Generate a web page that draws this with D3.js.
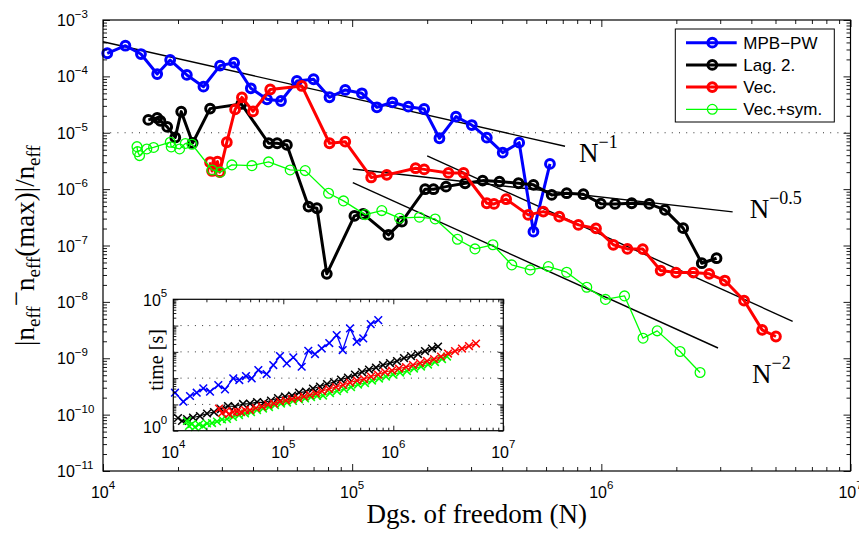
<!DOCTYPE html>
<html>
<head>
<meta charset="utf-8">
<script src="https://cdn.jsdelivr.net/npm/d3@7"></script>
<style>
  html, body { margin: 0; padding: 0; background: #fff; }
  svg { display: block; }
</style>
</head>
<body>
<svg id="chart" width="859" height="533"></svg>
<script>
// ---------- Convergence of n_eff error vs. degrees of freedom ----------
const seriesNames = ["MPB\u2212PW", "Lag. 2.", "Vec.", "Vec.+sym."];
const seriesColors = ["#0000ff", "#000000", "#ff0000", "#00ff00"];

// MPB-PW
const nBlue = [1.04e4,1.23e4,1.42e4,1.65e4,1.86e4,2.17e4,2.53e4,2.95e4,3.36e4,3.92e4,4.55e4,5.18e4,6.0e4,7.0e4,8.11e4,9.38e4,1.094e5,1.257e5,1.45e5,1.68e5,1.945e5,2.24e5,2.61e5,3.02e5,3.47e5,4.02e5,4.68e5,5.34e5,6.22e5];
const eBlue = [2.57e-4,3.50e-4,2.49e-4,1.10e-4,1.95e-4,1.06e-4,6.56e-5,1.55e-4,1.75e-4,6.15e-5,3.93e-5,3.66e-5,8.29e-5,8.89e-5,4.26e-5,5.74e-5,5.01e-5,2.83e-5,3.47e-5,2.90e-5,2.64e-5,7.99e-6,1.93e-5,1.37e-5,8.18e-6,4.44e-6,6.67e-6,1.76e-7,2.80e-6];

// Lag. 2.
const nBlack = [1.52e4,1.65e4,1.70e4,1.81e4,1.95e4,2.06e4,2.29e4,2.69e4,3.59e4,4.62e4,5.0e4,5.47e4,6.68e4,7.22e4,7.91e4,1.021e5,1.107e5,1.398e5,1.583e5,1.963e5,2.12e5,2.38e5,2.84e5,3.34e5,3.90e5,4.65e5,5.34e5,6.32e5,7.26e5,8.47e5,9.95e5,1.135e6,1.324e6,1.557e6,1.80e6,2.13e6,2.53e6,2.90e6];
const eBlack = [1.69e-5,1.83e-5,1.62e-5,1.27e-5,8.25e-6,2.37e-5,6.59e-6,2.68e-5,3.24e-5,6.51e-6,6.51e-6,6.08e-6,4.90e-7,4.58e-7,3.14e-8,3.35e-7,3.63e-7,1.54e-7,2.65e-7,9.96e-7,9.96e-7,1.107e-6,1.27e-6,1.416e-6,1.36e-6,1.27e-6,1.19e-6,7.89e-7,8.46e-7,8.12e-7,5.53e-7,5.46e-7,5.62e-7,5.46e-7,4.28e-7,2.03e-7,4.85e-8,5.95e-8];

// Vec.
const nRed = [2.69e4,2.74e4,2.88e4,2.94e4,3.14e4,3.39e4,3.61e4,4.00e4,4.69e4,6.28e4,8.11e4,9.38e4,1.192e5,1.377e5,1.797e5,1.945e5,2.434e5,2.80e5,3.47e5,3.71e5,4.15e5,5.09e5,5.85e5,6.78e5,8.09e5,9.52e5,1.117e6,1.272e6,1.466e6,1.73e6,1.994e6,2.34e6,2.71e6,3.13e6,3.74e6,4.42e6,5.02e6];
const eRed = [3.00e-6,2.10e-6,3.07e-6,2.00e-6,6.79e-6,2.59e-5,4.23e-5,2.39e-5,5.86e-5,6.76e-5,6.51e-6,6.95e-6,1.61e-6,1.79e-6,2.35e-6,2.24e-6,1.94e-6,1.94e-6,5.62e-7,5.46e-7,6.62e-7,3.49e-7,3.99e-7,3.25e-7,2.32e-7,2.01e-7,1.03e-7,8.71e-8,8.65e-8,3.59e-8,3.31e-8,3.31e-8,3.14e-8,2.39e-8,1.055e-8,3.19e-9,2.43e-9];

// Vec.+sym.
const nGreen = [1.369e4,1.377e4,1.402e4,1.499e4,1.596e4,1.862e4,1.879e4,2.03e4,2.14e4,2.275e4,2.74e4,2.955e4,3.29e4,3.96e4,4.62e4,5.64e4,6.48e4,8.04e4,9.23e4,1.127e5,1.315e5,1.549e5,1.862e5,2.153e5,2.645e5,3.11e5,3.67e5,4.37e5,5.18e5,6.13e5,7.26e5,8.74e5,1.039e6,1.239e6,1.47e6,1.676e6,2.07e6,2.49e6];
const eGreen = [5.67e-6,4.62e-6,3.93e-6,5.16e-6,5.49e-6,6.79e-6,5.60e-6,5.16e-6,6.46e-6,6.25e-6,2.19e-6,2.00e-6,2.69e-6,2.61e-6,3.04e-6,2.19e-6,2.13e-6,8.46e-7,6.18e-7,3.53e-7,4.16e-7,3.05e-7,3.18e-7,2.96e-7,1.29e-7,8.71e-8,1.03e-7,4.53e-8,3.69e-8,4.23e-8,3.36e-8,1.82e-8,1.107e-8,1.277e-8,2.27e-9,3.06e-9,1.32e-9,5.58e-10];

// Reference slopes: endpoints [N, error] and exponent label
const refN1 = [1e4, 7.15e5],     refE1 = [4.12e-4, 5.76e-6];
const refN05 = [1.006e5, 3.365e6], refE05 = [2.28e-6, 3.94e-7];
const refN2a = [2.0e5, 5.86e6],  refE2a = [3.88e-6, 4.52e-9];
const refN2b = [1.006e5, 2.94e6], refE2b = [1.30e-6, 1.52e-9];
const refExponents = ["\u22121", "\u22120.5", "\u22122"];
const thresholdE = 1e-5;

// Inset: run time [s]
const tnBlue = [1.036e4,1.233e4,1.419e4,1.632e4,1.874e4,2.157e4,2.565e4,2.951e4,3.51e4,3.98e4,4.58e4,5.16e4,5.93e4,7.06e4,8.11e4,9.33e4,1.074e5,1.233e5,1.469e5,1.687e5,1.941e5,2.233e5,2.618e5,3.06e5,3.467e5,4.04e5,4.645e5,5.33e5,6.23e5,7.30e5];
const tBlue = [27.9,12.7,20.9,27.9,40.9,30.4,54.7,37.5,98.2,84.7,120,98.2,203,143,315,692,365,618,271,1101,825,1358,2161,4352,1171,7827,2421,3261,11400,16180];
const tnBlack = [1.103e4,1.2e4,1.332e4,1.511e4,1.748e4,2.025e4,2.344e4,2.715e4,3.143e4,3.64e4,4.30e4,4.98e4,5.77e4,6.68e4,7.73e4,8.95e4,1.036e5,1.2e5,1.389e5,1.608e5,1.862e5,2.156e5,2.496e5,2.89e5,3.346e5,3.874e5,4.485e5,5.194e5,6.013e5,6.96e5,8.06e5,9.33e5,1.08e6,1.251e6,1.448e6,1.677e6,1.942e6,2.248e6,2.55e6];
const tBlack = [3.04,2.34,2.79,3.18,3.62,4.51,5.14,6.68,8.69,8.32,10.4,10.8,12.3,11.8,14.1,17.5,20.0,21.8,28.3,30.9,40.2,47.9,59.7,71.1,88.5,105,137,171,212,253,315,375,447,581,692,825,1072,1335,1590];
const tnRed = [2.603e4,2.772e4,3.014e4,3.209e4,3.489e4,3.795e4,4.126e4,4.486e4,4.98e4,5.647e4,6.405e4,7.262e4,8.234e4,9.333e4,1.058e5,1.2e5,1.36e5,1.543e5,1.748e5,1.983e5,2.248e5,2.603e5,3.014e5,3.489e5,4.041e5,4.677e5,5.415e5,6.27e5,7.262e5,8.405e5,9.731e5,1.127e6,1.305e6,1.511e6,1.748e6,2.025e6,2.344e6,2.715e6,3.143e6,3.64e6,4.212e6,4.877e6,5.647e6];
const tRed = [6.98,4.71,5.61,4.31,5.14,5.37,5.14,6.12,6.12,7.30,8.32,9.91,10.8,12.9,14.1,16.0,17.5,20.0,22.8,26.0,32.3,38.5,45.9,54.7,68.0,81.0,92.4,115,137,171,195,232,264,315,375,447,532,663,861,1072,1335,1662,2068];
const tnGreen = [1.332e4,1.389e4,1.479e4,1.575e4,1.713e4,1.862e4,2.025e4,2.248e4,2.496e4,2.772e4,3.077e4,3.489e4,3.957e4,4.486e4,5.087e4,5.77e4,6.54e4,7.413e4,8.405e4,9.53e4,1.08e5,1.225e5,1.389e5,1.575e5,1.786e5,2.025e5,2.296e5,2.658e5,3.077e5,3.563e5,4.126e5,4.777e5,5.53e5,6.405e5,7.413e5,8.58e5,9.94e5,1.151e6,1.332e6,1.543e6,1.786e6,2.068e6,2.393e6,2.772e6,3.077e6];
const tGreen = [2.34,1.51,1.80,1.38,1.72,1.51,1.88,1.96,2.24,2.67,2.79,3.32,3.95,4.51,5.14,6.12,6.98,7.96,9.49,10.8,11.8,13.5,15.4,16.8,19.1,20.9,21.8,27.1,32.3,38.5,45.9,57.1,65.1,81.0,96.6,115,137,163,186,232,276,329,409,532,663];

// Tick decades (exponents)
const xExpMain = [4, 5, 6, 7];
const yExpMain = [-11, -10, -9, -8, -7, -6, -5, -4, -3];
const xExpInset = [4, 5, 6, 7];
const yExpInset = [0, 5];
const yGridInset = [1, 2, 3, 4];

// ---------- drawing ----------
const SANS = "'Liberation Sans', Arial, Helvetica, sans-serif";
const SERIF = "'Liberation Serif', 'Times New Roman', Times, serif";
const svg = d3.select("#chart");

const M = { left: 103, right: 850.5, top: 20, bottom: 471 };
const x = d3.scaleLog().domain([1e4, 1e7]).range([M.left, M.right]);
const y = d3.scaleLog().domain([1e-11, 1e-3]).range([M.bottom, M.top]);

const I = { left: 173.3, right: 503.3, top: 299.3, bottom: 430.7 };
const xi = d3.scaleLog().domain([1e4, 1e7]).range([I.left, I.right]);
const yi = d3.scaleLog().domain([1, 1e5]).range([I.bottom, I.top]);

const pow10 = e => Math.pow(10, e);
const expText = e => (e < 0 ? "\u2212" + (-e) : String(e));

function minorValues(lo, hi) {
  const out = [];
  for (let e = lo; e < hi; e++) for (let m = 2; m <= 9; m++) out.push(m * pow10(e));
  return out;
}

// inward ticks on all four sides
function boxTicks(g, xs, ys, box, xMaj, yMaj, majLen, minLen) {
  const xMin = minorValues(xMaj[0], xMaj[xMaj.length - 1]);
  const yMin = minorValues(yMaj[0], yMaj[yMaj.length - 1]);
  const xMajV = xMaj.map(pow10), yMajV = yMaj.map(pow10);
  const defs = [
    [d3.axisBottom, xs, `translate(0,${box.bottom})`],
    [d3.axisTop, xs, `translate(0,${box.top})`],
    [d3.axisLeft, ys, `translate(${box.left},0)`],
    [d3.axisRight, ys, `translate(${box.right},0)`]
  ];
  defs.forEach(([axisFn, sc, tr], k) => {
    const vals = k < 2 ? [xMajV, xMin] : [yMajV, yMin];
    [[vals[0], majLen], [vals[1], minLen]].forEach(([v, len]) => {
      const a = axisFn(sc).tickValues(v).tickSizeInner(-len).tickSizeOuter(0).tickFormat("");
      const ag = g.append("g").attr("transform", tr).call(a);
      ag.select(".domain").remove();
      ag.selectAll(".tick line").attr("stroke", "#000").attr("stroke-width", 0.9);
    });
  });
}

function powLabel(g, px, py, e, anchor, fs, sfs, supDy) {
  const t = g.append("text")
    .attr("x", px).attr("y", py)
    .attr("font-family", SANS).attr("font-size", fs)
    .attr("text-anchor", anchor).attr("fill", "#000");
  t.append("tspan").text("10");
  t.append("tspan").attr("dy", supDy).attr("font-size", sfs).text(expText(e));
  return t;
}

const main = svg.append("g");

// threshold dotted line
main.append("line")
  .attr("x1", M.left).attr("x2", M.right)
  .attr("y1", y(thresholdE)).attr("y2", y(thresholdE))
  .attr("stroke", "#333").attr("stroke-width", 1)
  .attr("stroke-dasharray", "1,6.2");

// reference power-law lines
const refSets = [[refN1, refE1], [refN05, refE05], [refN2a, refE2a], [refN2b, refE2b]];
refSets.forEach(([ns, es]) => {
  main.append("line")
    .attr("x1", x(ns[0])).attr("y1", y(es[0]))
    .attr("x2", x(ns[1])).attr("y2", y(es[1]))
    .attr("stroke", "#000").attr("stroke-width", 1.4);
});

// slope labels placed next to the line ends
function slopeLabel(px, py, exp) {
  const t = main.append("text").attr("x", px).attr("y", py)
    .attr("font-family", SERIF).attr("font-size", 27).attr("fill", "#000");
  t.append("tspan").text("N");
  t.append("tspan").attr("dy", -14).attr("font-size", 18).text(exp);
}
slopeLabel(x(refN1[1]) + 14, y(refE1[1]) + 16, refExponents[0]);
slopeLabel(x(refN05[1]) + 17, y(refE05[1]) + 6, refExponents[1]);
slopeLabel(x(refN2b[1]) + 34, y(refE2b[1]) + 35, refExponents[2]);

// main series
const mainSeries = [
  { n: nBlue, v: eBlue, c: 0, lw: 3, r: 4.4, mw: 3 },
  { n: nBlack, v: eBlack, c: 1, lw: 3, r: 4.4, mw: 3 },
  { n: nRed, v: eRed, c: 2, lw: 3, r: 4.4, mw: 3 },
  { n: nGreen, v: eGreen, c: 3, lw: 1.3, r: 4.9, mw: 1.3 }
];
const lineMain = d3.line().x(d => x(d[0])).y(d => y(d[1]));
mainSeries.forEach(s => {
  const pts = d3.zip(s.n, s.v);
  const g = main.append("g");
  g.append("path").datum(pts).attr("d", lineMain)
    .attr("fill", "none").attr("stroke", seriesColors[s.c])
    .attr("stroke-width", s.lw).attr("stroke-linejoin", "round");
  g.selectAll("circle").data(pts).join("circle")
    .attr("cx", d => x(d[0])).attr("cy", d => y(d[1])).attr("r", s.r)
    .attr("fill", "none").attr("stroke", seriesColors[s.c]).attr("stroke-width", s.mw);
});

// main frame + ticks
main.append("rect")
  .attr("x", M.left).attr("y", M.top)
  .attr("width", M.right - M.left).attr("height", M.bottom - M.top)
  .attr("fill", "none").attr("stroke", "#000").attr("stroke-width", 1.2);
boxTicks(main, x, y, M, xExpMain, yExpMain, 7, 4);

// main tick labels
xExpMain.forEach(e => powLabel(main, x(pow10(e)), M.bottom + 27, e, "middle", 16, 11.5, -9));
yExpMain.forEach(e => powLabel(main, 57, y(pow10(e)) + 6, e, "start", 16, 11.5, -8));

// axis titles
main.append("text")
  .attr("x", (M.left + M.right) / 2).attr("y", 523)
  .attr("text-anchor", "middle")
  .attr("font-family", SERIF).attr("font-size", 27).attr("fill", "#000")
  .text("Dgs. of freedom (N)");

const yl = main.append("text")
  .attr("transform", `translate(34,${(M.top + M.bottom) / 2}) rotate(-90)`)
  .attr("text-anchor", "middle")
  .attr("font-family", SERIF).attr("font-size", 27).attr("fill", "#000");
yl.append("tspan").text("|n");
yl.append("tspan").attr("dy", 6).attr("font-size", 19).text("eff");
yl.append("tspan").attr("dy", -15).text("\u2212");
yl.append("tspan").attr("dy", 9).text("n");
yl.append("tspan").attr("dy", 6).attr("font-size", 19).text("eff");
yl.append("tspan").attr("dy", -6).text("(max)|/n");
yl.append("tspan").attr("dy", 6).attr("font-size", 19).text("eff");

// legend
const L = { x: 675.3, y: 29, w: 159, h: 93 };
const lg = main.append("g");
lg.append("rect").attr("x", L.x).attr("y", L.y).attr("width", L.w).attr("height", L.h)
  .attr("fill", "#fff").attr("stroke", "#000").attr("stroke-width", 1);
mainSeries.forEach((s, i) => {
  const ly = L.y + 13.7 + i * 22.2;
  lg.append("line").attr("x1", L.x + 10.7).attr("x2", L.x + 61.4)
    .attr("y1", ly).attr("y2", ly)
    .attr("stroke", seriesColors[s.c]).attr("stroke-width", s.lw);
  lg.append("circle").attr("cx", L.x + 37).attr("cy", ly).attr("r", s.r)
    .attr("fill", "none").attr("stroke", seriesColors[s.c]).attr("stroke-width", s.mw);
  lg.append("text").attr("x", L.x + 68).attr("y", ly + 6)
    .attr("font-family", SANS).attr("font-size", 17).attr("fill", "#000")
    .text(seriesNames[i]);
});

// ---------- inset: run time ----------
const ins = svg.append("g");
ins.append("rect")
  .attr("x", I.left).attr("y", I.top)
  .attr("width", I.right - I.left).attr("height", I.bottom - I.top)
  .attr("fill", "#fff");
yGridInset.forEach(e => {
  ins.append("line")
    .attr("x1", I.left).attr("x2", I.right)
    .attr("y1", yi(pow10(e))).attr("y2", yi(pow10(e)))
    .attr("stroke", "#333").attr("stroke-width", 1)
    .attr("stroke-dasharray", "1,6.2");
});

const insetSeries = [
  { n: tnBlue, v: tBlue, c: 0, lw: 1.3 },
  { n: tnBlack, v: tBlack, c: 1, lw: 1.2 },
  { n: tnGreen, v: tGreen, c: 3, lw: 1.2 },
  { n: tnRed, v: tRed, c: 2, lw: 1.2 }
];
const lineInset = d3.line().x(d => xi(d[0])).y(d => yi(d[1]));
const cross = d3.symbol().type(d3.symbolX).size(40);
insetSeries.forEach(s => {
  const pts = d3.zip(s.n, s.v);
  const g = ins.append("g");
  g.append("path").datum(pts).attr("d", lineInset)
    .attr("fill", "none").attr("stroke", seriesColors[s.c])
    .attr("stroke-width", s.lw).attr("stroke-linejoin", "round");
  g.selectAll("path.mk").data(pts).join("path").attr("class", "mk")
    .attr("d", cross)
    .attr("transform", d => `translate(${xi(d[0])},${yi(d[1])})`)
    .attr("fill", "none").attr("stroke", seriesColors[s.c]).attr("stroke-width", 1.5);
});

ins.append("rect")
  .attr("x", I.left).attr("y", I.top)
  .attr("width", I.right - I.left).attr("height", I.bottom - I.top)
  .attr("fill", "none").attr("stroke", "#000").attr("stroke-width", 1.2);
boxTicks(ins, xi, yi, I, xExpInset, [0, 1, 2, 3, 4, 5], 5, 3);

xExpInset.forEach(e => powLabel(ins, xi(pow10(e)), I.bottom + 27.5, e, "middle", 16, 11.5, -10));
powLabel(ins, 143, yi(pow10(yExpInset[1])) + 7, yExpInset[1], "start", 16, 11.5, -9);
powLabel(ins, 143, yi(pow10(yExpInset[0])) + 2.5, yExpInset[0], "start", 16, 11.5, -9);

ins.append("text")
  .attr("transform", `translate(163,${(I.top + I.bottom) / 2 - 5}) rotate(-90)`)
  .attr("text-anchor", "middle")
  .attr("font-family", SERIF).attr("font-size", 20).attr("fill", "#000")
  .text("time [s]");
</script>
</body>
</html>
